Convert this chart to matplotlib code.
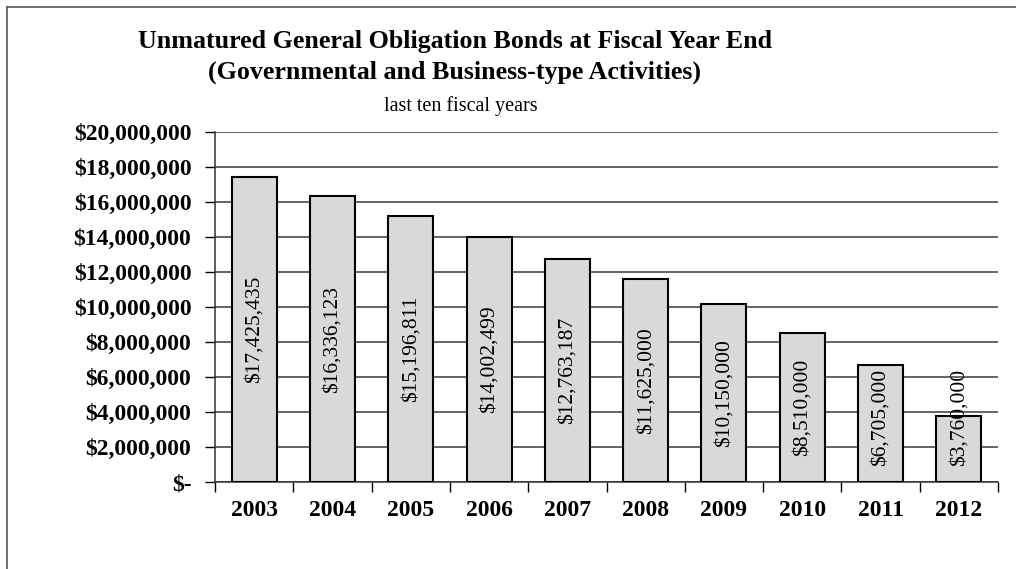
import numpy as np
import matplotlib
matplotlib.use("Agg")
import matplotlib.pyplot as plt
from matplotlib.lines import Line2D
from matplotlib.ticker import FuncFormatter

years = ["2003", "2004", "2005", "2006", "2007", "2008", "2009", "2010", "2011", "2012"]
bonds = [17425435, 16336123, 15196811, 14002499, 12763187, 11625000, 10150000, 8510000, 6705000, 3760000]

plt.rcParams['font.family'] = ['Liberation Serif', 'DejaVu Serif']

W, H = 1016, 569
fig = plt.figure(figsize=(W / 100, H / 100), dpi=100)
ax = fig.add_axes([215 / W, 1 - 482 / H, (998 - 215) / W, (482 - 132) / H])

x = np.arange(len(years))
ax.bar(x, bonds, width=0.575, color='#d9d9d9', edgecolor='black', linewidth=1.5, zorder=3)

# value labels, rotated inside each bar; short bars push the label up so it fits
for xi, v in zip(x, bonds):
    ax.text(xi, max(v / 2, 3.7e6), "${:,}".format(v), rotation=90, ha='center', va='center',
            fontsize=15.5, color='black', zorder=4)

ax.set_xlim(-0.5, len(years) - 0.5)
ax.set_ylim(0, 20000000)
ax.set_yticks(np.arange(0, 20000001, 2000000))
ax.yaxis.set_major_formatter(FuncFormatter(lambda v, p: "$-" if v == 0 else "${:,.0f}".format(v)))
ax.yaxis.grid(True, color='#3a3a3a', linewidth=1.1, zorder=0)
ax.set_axisbelow(True)

ax.set_xticks(x)
ax.set_xticklabels(years)
ax.set_xticks(np.arange(-0.5, len(years)), minor=True)
ax.tick_params(axis='x', which='major', length=0, pad=13, labelsize=17)
ax.tick_params(axis='x', which='minor', length=7, width=1, direction='out')
ax.tick_params(axis='y', length=7, width=1, direction='out', pad=10, labelsize=17)
for lab in ax.get_xticklabels() + ax.get_yticklabels():
    lab.set_fontweight('bold')

for s in ['top', 'right']:
    ax.spines[s].set_visible(False)
ax.spines['left'].set_color('#333333')
ax.spines['bottom'].set_color('#333333')
ax.spines['left'].set_linewidth(1.1)
ax.spines['bottom'].set_linewidth(1.1)

fig.text(455 / W, 1 - 48 / H, "Unmatured General Obligation Bonds at Fiscal Year End",
         ha='center', va='baseline', fontsize=18.7, fontweight='bold')
fig.text(455 / W, 1 - 79 / H, "(Governmental and Business-type Activities)",
         ha='center', va='baseline', fontsize=18.7, fontweight='bold')
fig.text(461 / W, 1 - 111 / H, "last ten fiscal years",
         ha='center', va='baseline', fontsize=14.5)

# frame around the whole chart
fig.add_artist(Line2D([7 / W, 1], [1 - 7 / H, 1 - 7 / H], transform=fig.transFigure, color='#555555', lw=1.2))
fig.add_artist(Line2D([7 / W, 7 / W], [0, 1 - 7 / H], transform=fig.transFigure, color='#555555', lw=1.2))

fig.savefig("out.png", dpi=100)
